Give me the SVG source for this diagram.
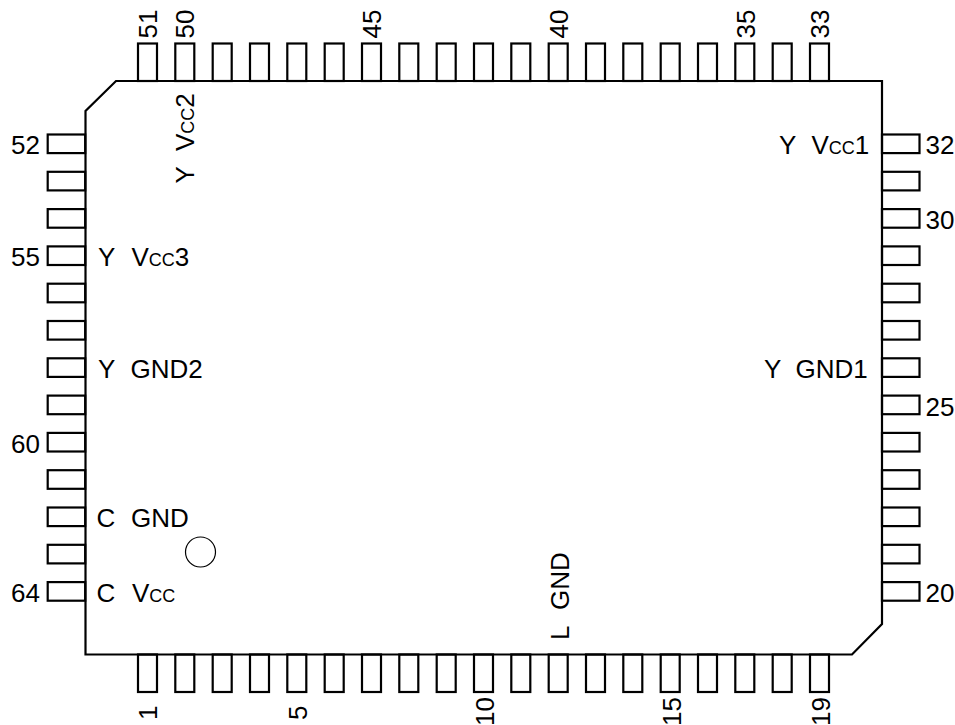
<svg xmlns="http://www.w3.org/2000/svg" width="955" height="725" viewBox="0 0 955 725">
<style>
.b{fill:none;stroke:#000;stroke-width:2.2;stroke-linejoin:miter}
.p{fill:#fff;stroke:#000;stroke-width:2.2}
text{font-family:"Liberation Sans",Arial,sans-serif;font-size:26px;fill:#000}
.s{font-size:18px}
.e{text-anchor:end}
</style>
<rect width="955" height="725" fill="#fff"/>
<defs>
<rect id="v" class="p" x="0" y="0" width="19" height="37.5"/>
<rect id="h" class="p" x="0" y="0" width="37.5" height="18.6"/>
</defs>
<g id="pins-top">
<use href="#v" x="138" y="43.5"/><use href="#v" x="175.3" y="43.5"/><use href="#v" x="212.7" y="43.5"/><use href="#v" x="250" y="43.5"/><use href="#v" x="287.3" y="43.5"/><use href="#v" x="324.7" y="43.5"/><use href="#v" x="362" y="43.5"/><use href="#v" x="399.3" y="43.5"/><use href="#v" x="436.7" y="43.5"/><use href="#v" x="474" y="43.5"/><use href="#v" x="511.3" y="43.5"/><use href="#v" x="548.7" y="43.5"/><use href="#v" x="586" y="43.5"/><use href="#v" x="623.3" y="43.5"/><use href="#v" x="660.7" y="43.5"/><use href="#v" x="698" y="43.5"/><use href="#v" x="735.3" y="43.5"/><use href="#v" x="772.7" y="43.5"/><use href="#v" x="810" y="43.5"/>
</g>
<g id="pins-bottom">
<use href="#v" x="138" y="654.5"/><use href="#v" x="175.3" y="654.5"/><use href="#v" x="212.7" y="654.5"/><use href="#v" x="250" y="654.5"/><use href="#v" x="287.3" y="654.5"/><use href="#v" x="324.7" y="654.5"/><use href="#v" x="362" y="654.5"/><use href="#v" x="399.3" y="654.5"/><use href="#v" x="436.7" y="654.5"/><use href="#v" x="474" y="654.5"/><use href="#v" x="511.3" y="654.5"/><use href="#v" x="548.7" y="654.5"/><use href="#v" x="586" y="654.5"/><use href="#v" x="623.3" y="654.5"/><use href="#v" x="660.7" y="654.5"/><use href="#v" x="698" y="654.5"/><use href="#v" x="735.3" y="654.5"/><use href="#v" x="772.7" y="654.5"/><use href="#v" x="810" y="654.5"/>
</g>
<g id="pins-left">
<use href="#h" x="47.7" y="134.5"/><use href="#h" x="47.7" y="171.8"/><use href="#h" x="47.7" y="209.1"/><use href="#h" x="47.7" y="246.4"/><use href="#h" x="47.7" y="283.7"/><use href="#h" x="47.7" y="321"/><use href="#h" x="47.7" y="358.3"/><use href="#h" x="47.7" y="395.6"/><use href="#h" x="47.7" y="432.9"/><use href="#h" x="47.7" y="470.2"/><use href="#h" x="47.7" y="507.5"/><use href="#h" x="47.7" y="544.8"/><use href="#h" x="47.7" y="582.1"/>
</g>
<g id="pins-right">
<use href="#h" x="882" y="134.5"/><use href="#h" x="882" y="171.8"/><use href="#h" x="882" y="209.1"/><use href="#h" x="882" y="246.4"/><use href="#h" x="882" y="283.7"/><use href="#h" x="882" y="321"/><use href="#h" x="882" y="358.3"/><use href="#h" x="882" y="395.6"/><use href="#h" x="882" y="432.9"/><use href="#h" x="882" y="470.2"/><use href="#h" x="882" y="507.5"/><use href="#h" x="882" y="544.8"/><use href="#h" x="882" y="582.1"/>
</g>
<g id="package">
<path class="b" d="M116 81H882V624L852 654.5H85.5V111Z"/>
<circle cx="200.5" cy="552" r="15" fill="none" stroke="#000" stroke-width="1.2"/>
</g>
<g id="pin-numbers">
<text class="e" x="40" y="154">52</text><text class="e" x="40" y="266">55</text><text class="e" x="40" y="453">60</text><text class="e" x="40" y="602">64</text>
<text x="925.5" y="154">32</text><text x="925.5" y="228.5">30</text><text x="925.5" y="415.5">25</text><text x="925.5" y="602">20</text>
<text transform="translate(157 38.5) rotate(-90)">51</text><text transform="translate(194 38.5) rotate(-90)">50</text><text transform="translate(381 38.5) rotate(-90)">45</text><text transform="translate(568 38.5) rotate(-90)">40</text><text transform="translate(755 38.5) rotate(-90)">35</text><text transform="translate(829 38.5) rotate(-90)">33</text>
<text transform="translate(157.3 720) rotate(-90)">1</text><text transform="translate(307 720) rotate(-90)">5</text><text transform="translate(494 726) rotate(-90)">10</text><text transform="translate(681 726) rotate(-90)">15</text><text transform="translate(829.5 726) rotate(-90)">19</text>
</g>
<g id="signals">
<text x="98" y="266">Y</text><text x="131.5" y="266">V<tspan class="s">CC</tspan>3</text>
<text x="98" y="378">Y</text><text x="130.5" y="378">GND2</text>
<text x="96.5" y="527">C</text><text x="131" y="527">GND</text>
<text x="96.5" y="602">C</text><text x="132" y="602">V<tspan class="s">CC</tspan></text>
<text x="779" y="154">Y</text><text x="811.5" y="154">V<tspan class="s">CC</tspan>1</text>
<text x="764" y="378">Y</text><text x="795.5" y="378">GND1</text>
<text transform="translate(194 183.5) rotate(-90)">Y</text><text transform="translate(194 151) rotate(-90)">V<tspan class="s">CC</tspan>2</text>
<text transform="translate(569 640) rotate(-90)">L</text><text transform="translate(569 610) rotate(-90)">GND</text>
</g>
</svg>
